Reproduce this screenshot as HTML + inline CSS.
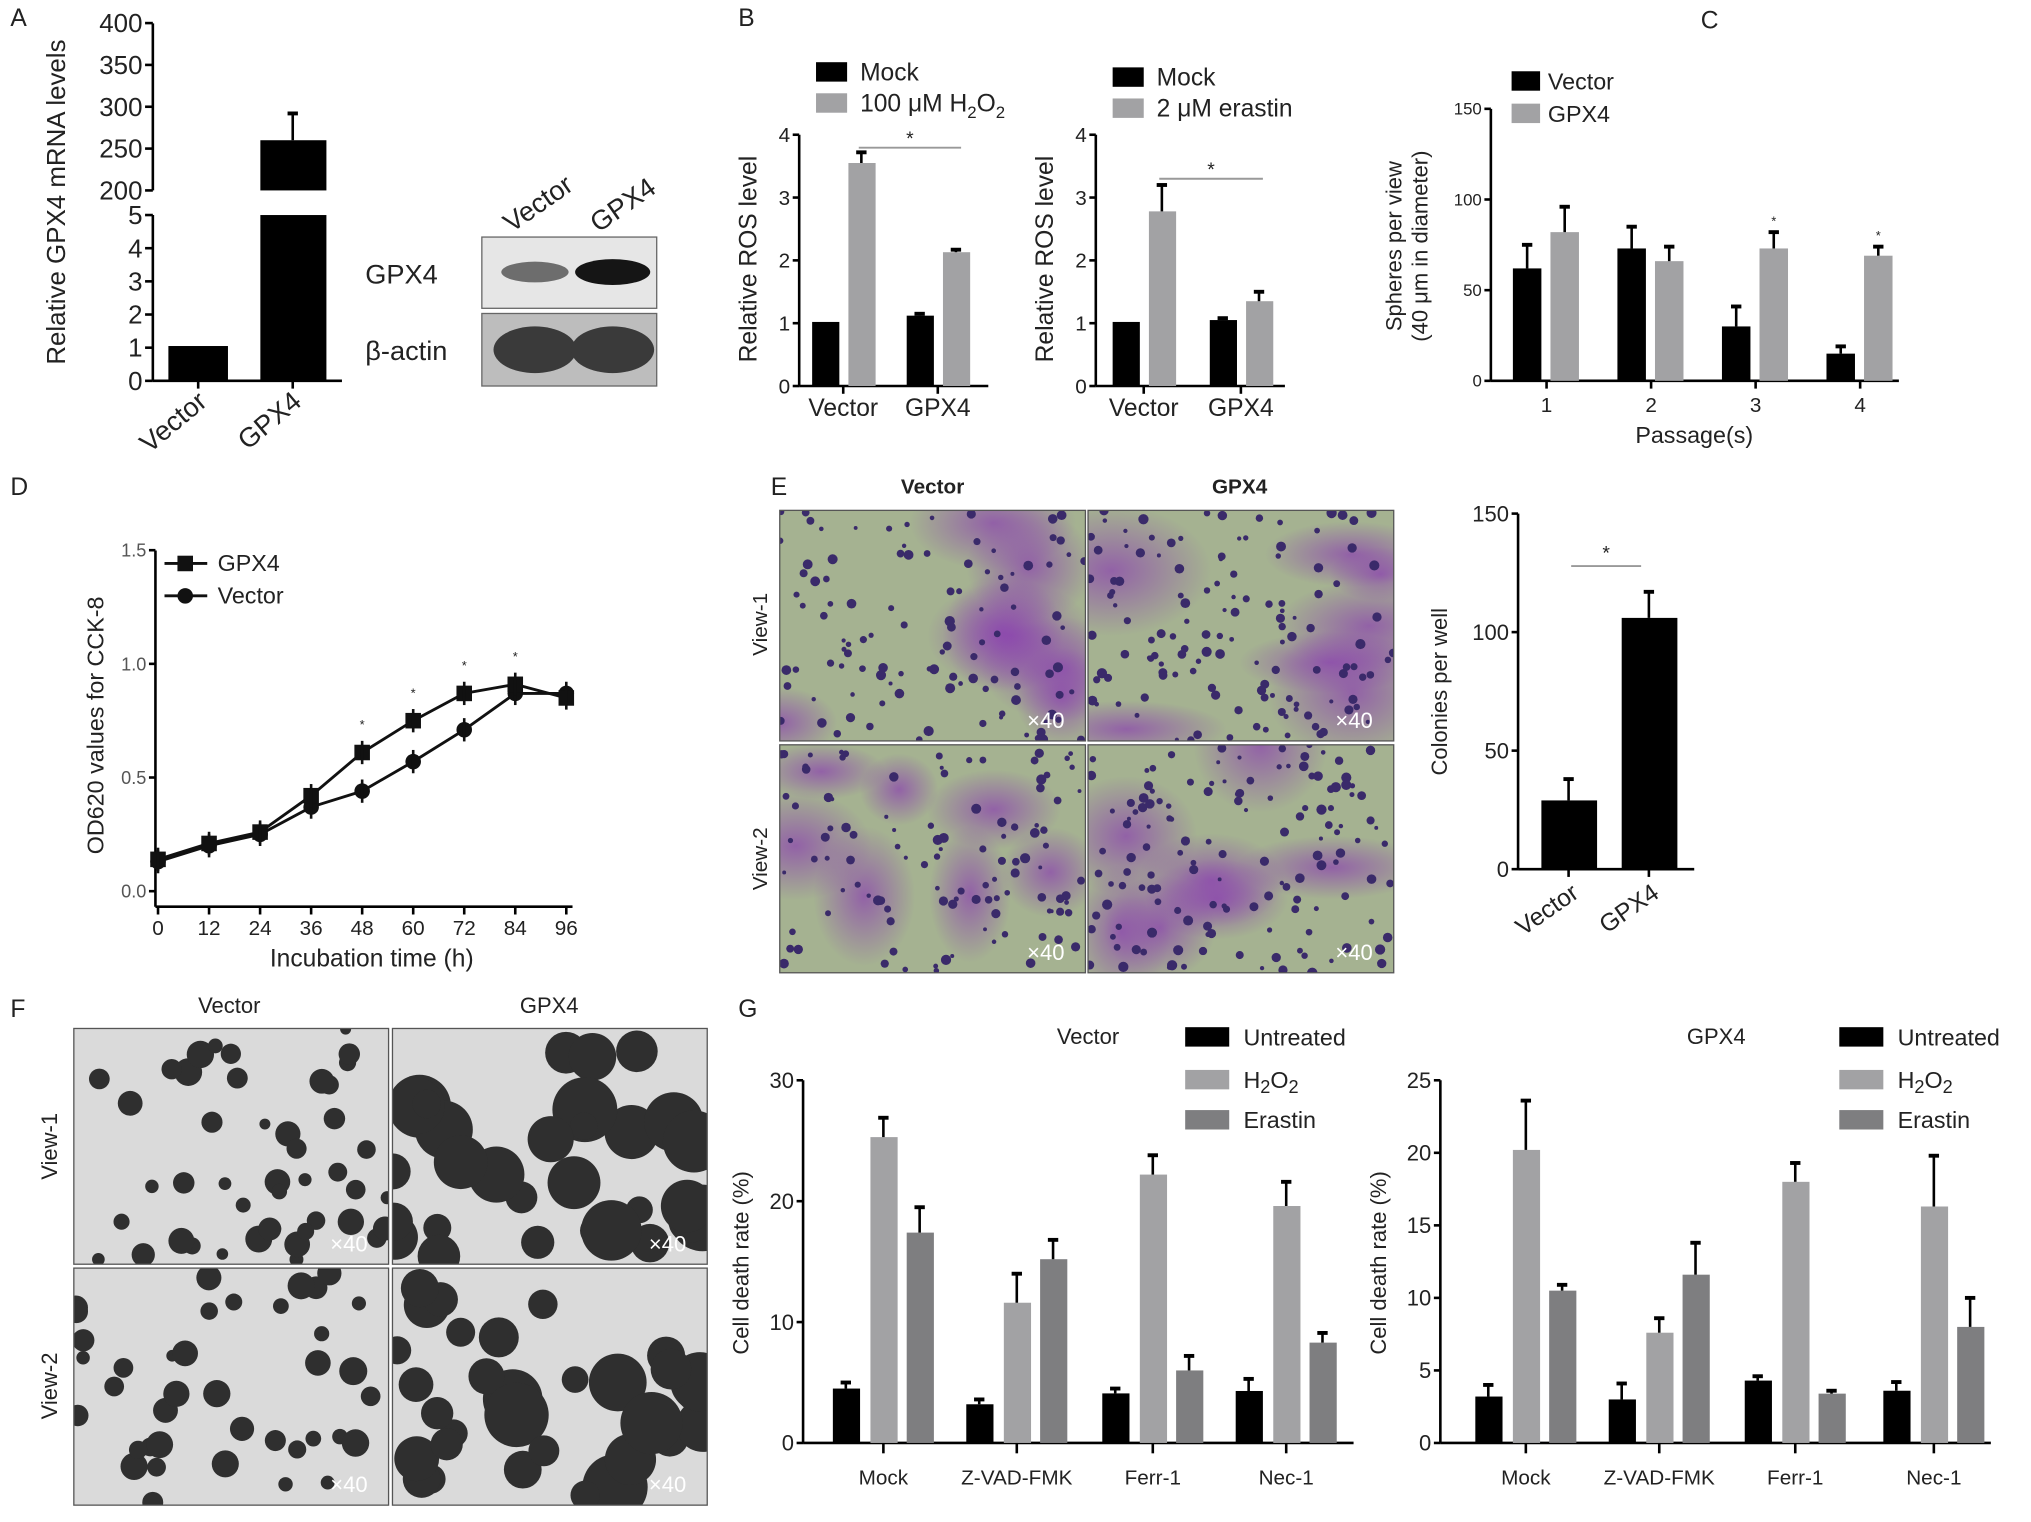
<!DOCTYPE html>
<html><head><meta charset="utf-8"><style>
html,body{margin:0;padding:0;background:#fff;}
svg{display:block;font-family:"Liberation Sans",Arial,sans-serif;}
</style></head><body>
<svg id="fig" width="2031" height="1522" viewBox="0 0 1568 1175" xmlns="http://www.w3.org/2000/svg">
<defs>
<radialGradient id="pur" cx="50%" cy="50%" r="50%"><stop offset="0" stop-color="#8a3fb0" stop-opacity="0.7"/><stop offset="1" stop-color="#8a3fb0" stop-opacity="0"/></radialGradient>
</defs>
<g id="root"></g>
</svg>
<script>
// ---------- data ----------
const aCategories = ["Vector","GPX4"];
const aValues = [1.05, 260];
const aErrors = [1.05, 292];
const bGroups = ["Vector","GPX4"];
const b1Mock = [1.02, 1.12];
const b1MockErr = [1.02, 1.15];
const b1H2O2 = [3.55, 2.13];
const b1H2O2Err = [3.72, 2.17];
const b2Mock = [1.02, 1.05];
const b2MockErr = [1.02, 1.08];
const b2Erastin = [2.78, 1.35];
const b2ErastinErr = [3.2, 1.5];
const bTicks = [0,1,2,3,4];
const cPassages = ["1","2","3","4"];
const cVector = [62, 73, 30, 15];
const cVectorErr = [75, 85, 41, 19];
const cGPX4 = [82, 66, 73, 69];
const cGPX4Err = [96, 74, 82, 74];
const cTicks = [0,50,100,150];
const dTimes = [0,12,24,36,48,60,72,84,96];
const dGPX4 = [0.14,0.21,0.26,0.42,0.61,0.75,0.87,0.91,0.85];
const dVector = [0.13,0.20,0.25,0.37,0.44,0.57,0.71,0.87,0.87];
const dTicks = [0,0.5,1.0,1.5];
const dTickLabels = ["0.0","0.5","1.0","1.5"];
const eCategories = ["Vector","GPX4"];
const eValues = [29, 106];
const eErrors = [38, 117];
const eTicks = [0,50,100,150];
const gGroups = ["Mock","Z-VAD-FMK","Ferr-1","Nec-1"];
const gVUntreated = [4.5,3.2,4.1,4.3];
const gVUntreatedErr = [5.0,3.6,4.5,5.3];
const gVH2O2 = [25.3,11.6,22.2,19.6];
const gVH2O2Err = [26.9,14.0,23.8,21.6];
const gVErastin = [17.4,15.2,6.0,8.3];
const gVErastinErr = [19.5,16.8,7.2,9.1];
const gGUntreated = [3.2,3.0,4.3,3.6];
const gGUntreatedErr = [4.0,4.1,4.6,4.2];
const gGH2O2 = [20.2,7.6,18.0,16.3];
const gGH2O2Err = [23.6,8.6,19.3,19.8];
const gGErastin = [10.5,11.6,3.4,8.0];
const gGErastinErr = [10.9,13.8,3.6,10.0];
const gVTicks = [0,10,20,30];
const gGTicks = [0,5,10,15,20,25];

const NS="http://www.w3.org/2000/svg";
const root=document.getElementById('root');
function mk(tag,attrs,parent,txt){const e=document.createElementNS(NS,tag);for(const k in attrs)e.setAttribute(k,attrs[k]);if(txt!==undefined)e.textContent=txt;(parent||root).appendChild(e);return e;}
const BLK="#000", LG="#a2a2a4", DG="#7e7e80";

function line(x1,y1,x2,y2,w,c,name){const e=mk('line',{x1,y1,x2,y2,stroke:c||'#000','stroke-width':w||2});

return e;}
function text(x,y,s,size,name,extra){const a=Object.assign({x,y,'font-size':size,fill:'#222'},extra||{});const e=mk('text',a,null,s);

return e;}
function rect(x,y,w,h,c,name){const e=mk('rect',{x,y,width:w,height:h,fill:c});

return e;}
function errbar(x,yTop,yVal,name){line(x,yVal,x,yTop,2,'#000',name);line(x-4,yTop,x+4,yTop,3,'#000',name+'-cap');}
function bar(x,w,y0,y,c,name){rect(x,Math.min(y,y0),w,Math.abs(y0-y),c,name);}
function yaxis(x,yTop,yBot,ticks,yf,labels,size,name){line(x,yTop,x,yBot,2,'#000',name);ticks.forEach((t,i)=>{const y=yf(t);line(x-5,y,x,y,2,'#000','y-tick');text(x-7,y+size*0.35,labels?labels[i]:String(t),size,'y-tick-label',{'text-anchor':'end'});});}
function vtitle(x,y,s,size,name){const e=text(x,y,s,size,name,{'text-anchor':'middle',transform:`rotate(-90 ${x} ${y})`});return e;}

// ---------- Panel labels ----------
[["A",8,20],["B",570,20],["C",1313,22],["D",8,382],["E",595,382],["F",8,785],["G",570,785]].forEach(p=>text(p[1],p[2],p[0],19,'panel-label-'+p[0].toLowerCase()));

// ---------- Panel A ----------
const aUp=v=>147-(v-200)/50*32.3, aLo=v=>294-v*25.6;
line(118,18,118,147,2,'#000','a-y-axis-upper');
[200,250,300,350,400].forEach(t=>{line(112,aUp(t),118,aUp(t),2,'#000','y-tick');text(110,aUp(t)+7,String(t),20,'y-tick-label',{'text-anchor':'end'});});
line(118,166,118,294,2,'#000','a-y-axis-lower');
[0,1,2,3,4,5].forEach(t=>{line(112,aLo(t),118,aLo(t),2,'#000','y-tick');text(110,aLo(t)+7,String(t),20,'y-tick-label',{'text-anchor':'end'});});
line(118,294,264,294,2,'#000','a-x-axis');
bar(130,46,294,aLo(aValues[0]),BLK,'bar-a-vector');
bar(201,51,294,aLo(5),BLK,'bar-a-gpx4-lower');
bar(201,51,aUp(200),aUp(aValues[1]),BLK,'bar-a-gpx4-upper');
errbar(226,aUp(aErrors[1]),aUp(aValues[1]),'a-gpx4-error');
[[153,aCategories[0]],[226,aCategories[1]]].forEach(c=>{line(c[0],294,c[0],300,2,'#000','x-tick');text(c[0]+8,312,c[1],21,'x-tick-label',{'text-anchor':'end',transform:`rotate(-40 ${c[0]+8} 312)`});});
vtitle(50,156,"Relative GPX4 mRNA levels",20,'a-y-axis-title');
// western blot
text(395,180,"Vector",21,'blot-label-vector',{transform:'rotate(-35 395 180)'});
text(462,180,"GPX4",21,'blot-label-gpx4',{transform:'rotate(-35 462 180)'});
rect(372,183,135,55,'#e6e6e6','blot-gpx4-panel').setAttribute('stroke','#666');
rect(372,242,135,56,'#bdbdbd','blot-actin-panel').setAttribute('stroke','#666');
mk('ellipse',{cx:413,cy:210,rx:26,ry:8,fill:'#6d6d6d'});
mk('ellipse',{cx:473,cy:210,rx:29,ry:10,fill:'#151515'});
mk('ellipse',{cx:413,cy:270,rx:32,ry:18,fill:'#3a3a3a'});
mk('ellipse',{cx:473,cy:270,rx:32,ry:18,fill:'#3a3a3a'});
text(282,219,"GPX4",21,'blot-row-gpx4');
text(282,278,"β-actin",21,'blot-row-actin');

// ---------- Panel B ----------
function bPanel(x0,xs,mock,mockE,tr,trE,label,sig,pfx,legY){
  const yf=v=>298-v*48.5;
  yaxis(x0,yf(4),298,bTicks,yf,null,16,pfx+'-y-axis');
  line(x0,298,x0+146,298,2,'#000',pfx+'-x-axis');
  bGroups.forEach((g,i)=>{
    const gx=xs[i];
    bar(gx,21,298,yf(mock[i]),BLK,pfx+'-bar-mock-'+g.toLowerCase());
    if(mockE[i]>mock[i]+0.01)errbar(gx+10,yf(mockE[i]),yf(mock[i]),pfx+'-err');
    bar(gx+28,21,298,yf(tr[i]),LG,pfx+'-bar-treated-'+g.toLowerCase());
    errbar(gx+38,yf(trE[i]),yf(tr[i]),pfx+'-err');
    line(gx+24,298,gx+24,304,2,'#000','x-tick');
    text(gx+24,321,g,19,'x-tick-label',{'text-anchor':'middle'});
  });
  line(sig[0],sig[1],sig[2],sig[1],1.5,'#999',pfx+'-significance-line');
  text((sig[0]+sig[2])/2,sig[1]-2,"*",15,pfx+'-significance-star',{'text-anchor':'middle'});
  vtitle(x0-33,200,"Relative ROS level",19,pfx+'-y-axis-title');
  rect(x0+13,legY,24,15,BLK,pfx+'-legend-swatch-mock');
  text(x0+47,legY+14,"Mock",19,pfx+'-legend-mock');
  rect(x0+13,legY+24,24,15,LG,pfx+'-legend-swatch-treated');
  text(x0+47,legY+38,label,19,pfx+'-legend-treated');
}
bPanel(617,[627,700],b1Mock,b1MockErr,b1H2O2,b1H2O2Err,"",[663,114,742],'b1',48);
(function(){const t=root.lastChild;t.innerHTML='';t.appendChild(document.createTextNode('100 μM H'));const s=mk('tspan',{'font-size':13,dy:5},t,'2');const o=mk('tspan',{dy:-5},t,'O');const s2=mk('tspan',{'font-size':13,dy:5},t,'2');})();
bPanel(846,[859,934],b2Mock,b2MockErr,b2Erastin,b2ErastinErr,"2 μM erastin",[895,138,975],'b2',52);

// ---------- Panel C ----------
(function(){
  const yf=v=>294-v*1.4;
  yaxis(1151,yf(150),294,cTicks,yf,null,13,'c-y-axis');
  line(1151,294,1466,294,2,'#000','c-x-axis');
  cPassages.forEach((p,i)=>{
    const gx=1168+i*80.7;
    bar(gx,22,294,yf(cVector[i]),BLK,'c-bar-vector-'+p);
    errbar(gx+11,yf(cVectorErr[i]),yf(cVector[i]),'c-err');
    bar(gx+29,22,294,yf(cGPX4[i]),LG,'c-bar-gpx4-'+p);
    errbar(gx+40,yf(cGPX4Err[i]),yf(cGPX4[i]),'c-err');
    if(i>=2)text(gx+40,yf(cGPX4Err[i])-5,"*",10,'c-significance-star',{'text-anchor':'middle'});
    line(gx+26,294,gx+26,300,2,'#000','x-tick');
    text(gx+26,318,p,16,'x-tick-label',{'text-anchor':'middle'});
  });
  text(1308,342,"Passage(s)",18,'c-x-axis-title',{'text-anchor':'middle'});
  vtitle(1082,190,"Spheres per view",17,'c-y-axis-title-line1');
  vtitle(1102,190,"(40 μm in diameter)",17,'c-y-axis-title-line2');
  rect(1167,55,22,15,BLK,'c-legend-swatch-vector');text(1195,69,"Vector",18,'c-legend-vector');
  rect(1167,80,22,15,LG,'c-legend-swatch-gpx4');text(1195,94,"GPX4",18,'c-legend-gpx4');
})();

// ---------- Panel D ----------
(function(){
  const yf=v=>688-v*175.5, xf=t=>122+t/12*39.4;
  line(120,425,120,700,2,'#000','d-y-axis');
  dTicks.forEach((t,i)=>{line(115,yf(t),120,yf(t),2,'#000','y-tick');text(113,yf(t)+5,dTickLabels[i],14,'y-tick-label',{'text-anchor':'end',fill:'#555'});});
  line(120,700,442,700,2,'#000','d-x-axis');
  dTimes.forEach(t=>{line(xf(t),700,xf(t),706,2,'#000','x-tick');text(xf(t),722,String(t),16,'x-tick-label',{'text-anchor':'middle'});});
  const pv=dVector.map((v,i)=>xf(dTimes[i])+','+yf(v)).join(' ');
  const pg=dGPX4.map((v,i)=>xf(dTimes[i])+','+yf(v)).join(' ');
  const l1=mk('polyline',{points:pv,fill:'none',stroke:'#111','stroke-width':2.2});
  
  
  const l2=mk('polyline',{points:pg,fill:'none',stroke:'#111','stroke-width':2.2});
  
  
  dVector.forEach((v,i)=>{const c=mk('circle',{cx:xf(dTimes[i]),cy:yf(v),r:6,fill:'#111'});
    
    
    line(xf(dTimes[i]),yf(v)-9,xf(dTimes[i]),yf(v)+9,2,'#111','d-err');});
  dGPX4.forEach((v,i)=>{rect(xf(dTimes[i])-6,yf(v)-6,12,12,'#111','d-point-gpx4');
    line(xf(dTimes[i]),yf(v)-9,xf(dTimes[i]),yf(v)+9,2,'#111','d-err');
    if(dTimes[i]>=48&&dTimes[i]<=84)text(xf(dTimes[i]),yf(Math.max(v,dVector[i]))-18,"*",10,'d-significance-star',{'text-anchor':'middle'});});
  line(127,435,160,435,2.2,'#111','d-legend-line-gpx4');rect(137,429,12,12,'#111','d-legend-marker-gpx4');
  text(168,441,"GPX4",18,'d-legend-gpx4');
  line(127,460,160,460,2.2,'#111','d-legend-line-vector');
  const lc=mk('circle',{cx:143,cy:460,r:6,fill:'#111'});
  text(168,466,"Vector",18,'d-legend-vector');
  text(287,746,"Incubation time (h)",19,'d-x-axis-title',{'text-anchor':'middle'});
  vtitle(80,560,"OD620 values for CCK-8",18,'d-y-axis-title');
})();

// ---------- micrograph images ----------
let seed=7;function rnd(){seed=(seed*16807)%2147483647;return seed/2147483647;}
function micro(x,y,w,h,name,kind,n){
  const g=mk('g',{});
  const cp='cp'+name;const c=mk('clipPath',{id:cp},g);mk('rect',{x,y,width:w,height:h},c);
  const inner=mk('g',{'clip-path':`url(#${cp})`},g);
  if(kind==='E'){
    mk('rect',{x,y,width:w,height:h,fill:'#a9bd8f'},inner);
    mk('rect',{x,y,width:w,height:h,fill:'#8a55a8','fill-opacity':0.1},inner);
    for(let i=0;i<7;i++)mk('ellipse',{cx:x+rnd()*w,cy:y+rnd()*h,rx:30+rnd()*50,ry:20+rnd()*35,fill:'url(#pur)'},inner);
    for(let i=0;i<n;i++)mk('circle',{cx:x+rnd()*w,cy:y+rnd()*h,r:1.5+rnd()*2.5,fill:'#3a2a6a'},inner);
    text(x+w-45,y+h-10,"×40",17,'magnification-label',{fill:'#fff'});
  }else{
    mk('rect',{x,y,width:w,height:h,fill:'#dadada'},inner);
    for(let i=0;i<n;i++){const r=kind==='Fb'?10+rnd()*16:4+rnd()*7;mk('circle',{cx:x+rnd()*w,cy:y+rnd()*h,r,fill:'#2f2f2f'},inner);}
    text(x+w-45,y+h-10,"×40",17,'magnification-label',{fill:'#fff'});
  }
  mk('rect',{x,y,width:w,height:h,fill:'none',stroke:'#555','stroke-width':1},g);
}
// ---------- Panel E ----------
micro(602,394,236,178,'e-image-vector-view1','E',110);
micro(840,394,236,178,'e-image-gpx4-view1','E',130);
micro(602,575,236,176,'e-image-vector-view2','E',110);
micro(840,575,236,176,'e-image-gpx4-view2','E',140);
text(720,381,"Vector",16,'e-column-vector',{'text-anchor':'middle','font-weight':'bold'});
text(957,381,"GPX4",16,'e-column-gpx4',{'text-anchor':'middle','font-weight':'bold'});
vtitle(592,482,"View-1",16,'e-row-view1');vtitle(592,663,"View-2",16,'e-row-view2');
(function(){
  const yf=v=>671-v*1.83;
  yaxis(1172,yf(150),671,eTicks,yf,null,17,'e-y-axis');
  line(1172,671,1308,671,2,'#000','e-x-axis');
  eCategories.forEach((c,i)=>{const gx=1190+i*62;
    bar(gx,43,671,yf(eValues[i]),BLK,'e-bar-'+c.toLowerCase());
    errbar(gx+21,yf(eErrors[i]),yf(eValues[i]),'e-err');
    line(gx+21,671,gx+21,677,2,'#000','x-tick');
    text(gx+30,692,c,19,'x-tick-label',{'text-anchor':'end',transform:`rotate(-35 ${gx+30} 692)`});});
  line(1213,437,1267,437,1.5,'#999','e-significance-line');
  text(1240,432,"*",15,'e-significance-star',{'text-anchor':'middle'});
  vtitle(1117,534,"Colonies per well",17,'e-y-axis-title');
})();

// ---------- Panel F ----------
micro(57,794,243,182,'f-image-vector-view1','F',45);
micro(303,794,243,182,'f-image-gpx4-view1','Fb',30);
micro(57,979,243,183,'f-image-vector-view2','F',40);
micro(303,979,243,183,'f-image-gpx4-view2','Fb',32);
text(177,782,"Vector",17,'f-column-vector',{'text-anchor':'middle'});
text(424,782,"GPX4",17,'f-column-gpx4',{'text-anchor':'middle'});
vtitle(44,885,"View-1",17,'f-row-view1');vtitle(44,1070,"View-2",17,'f-row-view2');

// ---------- Panel G ----------
function gPanel(x0,xEnd,max,ticks,centers,un,unE,h2,h2E,er,erE,title,titleX,legX,pfx){
  const yf=v=>1114-v*(280/max);
  yaxis(x0,yf(max),1114,ticks,yf,null,17,pfx+'-y-axis');
  line(x0,1114,xEnd,1114,2,'#000',pfx+'-x-axis');
  gGroups.forEach((g,i)=>{const c=centers[i];
    [[un,unE,BLK,'untreated',-39],[h2,h2E,LG,'h2o2',-10],[er,erE,DG,'erastin',18]].forEach(s=>{
      bar(c+s[4],21,1114,yf(s[0][i]),s[2],pfx+'-bar-'+s[3]+'-'+g.toLowerCase());
      errbar(c+s[4]+10,yf(s[1][i]),yf(s[0][i]),pfx+'-err');});
    line(c,1114,c,1122,2,'#000','x-tick');
    text(c,1146,g,16,'x-tick-label',{'text-anchor':'middle'});});
  text(titleX,806,title,17,pfx+'-title',{'text-anchor':'middle'});
  rect(legX,793,34,15,BLK,pfx+'-legend-swatch-untreated');text(legX+45,807,"Untreated",18,pfx+'-legend-untreated');
  rect(legX,826,34,15,LG,pfx+'-legend-swatch-h2o2');
  const t=text(legX+45,840,"H",18,pfx+'-legend-h2o2');
  const s1=mk('tspan',{'font-size':14,dy:4},t,'2');
  const o=mk('tspan',{dy:-4},t,'O');
  const s2=mk('tspan',{'font-size':14,dy:4},t,'2');
  rect(legX,857,34,15,DG,pfx+'-legend-swatch-erastin');text(legX+45,871,"Erastin",18,pfx+'-legend-erastin');
  vtitle(x0-42,975,"Cell death rate (%)",17,pfx+'-y-axis-title');
}
gPanel(620,1045,30,gVTicks,[682,785,890,993],gVUntreated,gVUntreatedErr,gVH2O2,gVH2O2Err,gVErastin,gVErastinErr,"Vector",840,915,'g-vector');
gPanel(1112,1537,25,gGTicks,[1178,1281,1386,1493],gGUntreated,gGUntreatedErr,gGH2O2,gGH2O2Err,gGErastin,gGErastinErr,"GPX4",1325,1420,'g-gpx4');
</script>
</body></html>
